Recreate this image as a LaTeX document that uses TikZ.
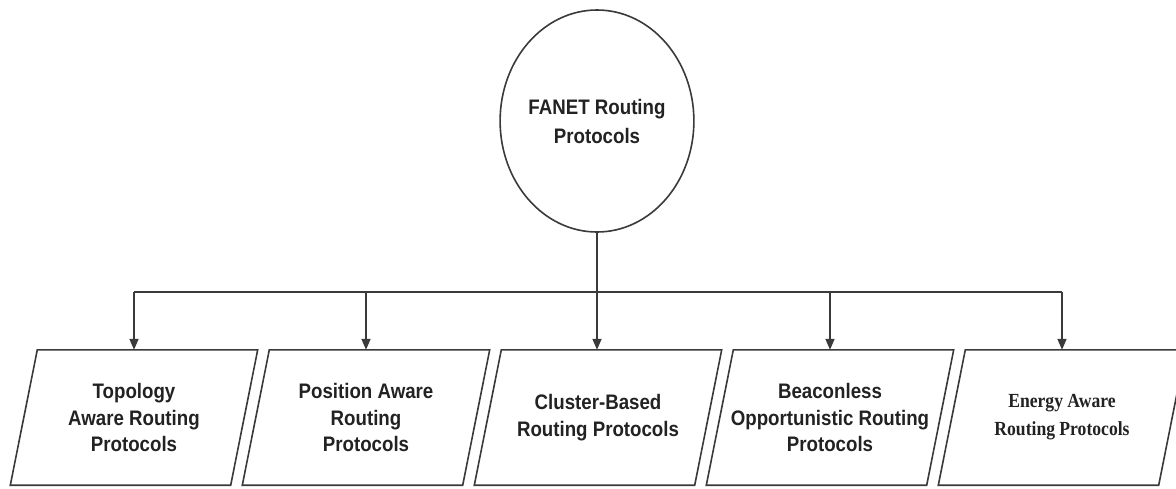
\documentclass[tikz,border=0pt]{standalone}
\usepackage{fontspec}
\setmainfont[FakeStretch=0.89]{Liberation Sans}
\newfontfamily\serifbold[FakeStretch=0.88]{Liberation Serif}
\usetikzlibrary{shapes.geometric,arrows.meta,calc}
\definecolor{ln}{HTML}{3A3A3A}
\definecolor{tx}{HTML}{222222}
\tikzset{
  lineS/.style={draw=ln,line width=1.6pt},
  arr/.style={lineS,-{Triangle[width=9pt,length=11pt]}},
  rootS/.style={ellipse,draw=ln,line width=1.6pt,minimum width=179pt,minimum height=222pt,inner sep=0pt,
    align=center,font=\bfseries\fontsize{21}{29}\selectfont,text=tx},
  boxS/.style={rectangle,minimum width=220pt,minimum height=135pt,inner sep=0pt,
    align=center,font=\bfseries\fontsize{21}{26.5}\selectfont,text=tx},
}
\begin{document}
\begin{tikzpicture}[x=1pt,y=-1pt]
\useasboundingbox[fill=white] (0,0) rectangle (1176,488);
\node[rootS] (root) at (597,121) {FANET Routing\\Protocols};
\node[boxS] (b1) at (134,417.5) {Topology\\Aware Routing\\Protocols};
\node[boxS] (b2) at (366,417.5) {Position Aware\\Routing\\Protocols};
\node[boxS] (b3) at (598,417.5) {Cluster-Based\\Routing Protocols};
\node[boxS] (b4) at (830,417.5) {Beaconless\\Opportunistic Routing\\Protocols};
\node[boxS,font=\serifbold\bfseries\fontsize{20}{28}\selectfont] (b5) at (1062,417.5) {Energy Aware\\Routing Protocols};
\foreach \n in {b1,b2,b3,b4,b5}{
  \draw[lineS] ($(\n.north west)+(13.5,0)$) -- ($(\n.north east)+(13.5,0)$)
    -- ($(\n.south east)+(-13.5,0)$) -- ($(\n.south west)+(-13.5,0)$) -- cycle;
}
\coordinate (h1) at (b1.center |- 0,292);
\coordinate (h5) at (b5.center |- 0,292);
\draw[lineS] (h1) -- (h5);
\draw[arr] (root.south) -- (root.south |- b3.north);
\foreach \n in {b1,b2,b4,b5}{
  \draw[arr] (\n.center |- 0,292) -- (\n.north);
}
\end{tikzpicture}
\end{document}
